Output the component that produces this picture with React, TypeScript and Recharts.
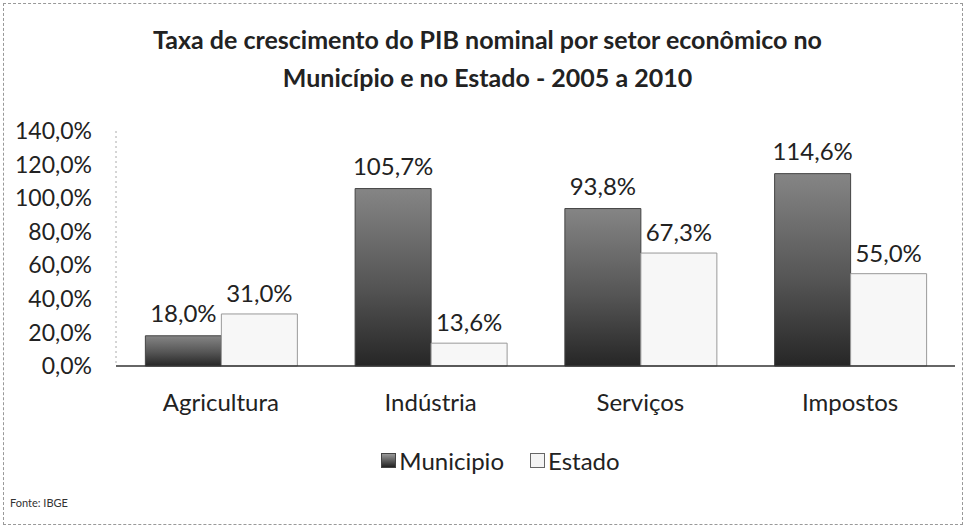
import React from 'react';
import { BarChart, Bar, XAxis, YAxis, LabelList } from 'recharts';

const categories = ['Agricultura', 'Indústria', 'Serviços', 'Impostos'];
const municipio = [18.0, 105.7, 93.8, 114.6];
const estado = [31.0, 13.6, 67.3, 55.0];
const yTicks = [0, 20, 40, 60, 80, 100, 120, 140];

const data = categories.map((name, i) => ({ name, municipio: municipio[i], estado: estado[i] }));

const FONT = 'Lato, "Open Sans", sans-serif';
const pct = (v: number) => `${v.toFixed(1).replace('.', ',')}%`;

const LegendBox = () => (
    <div style={{ position: 'absolute', top: 446, left: 17, width: 967, display: 'flex', justifyContent: 'center', gap: 26, fontFamily: FONT, fontSize: 24, color: '#222' }}>
        <span style={{ display: 'flex', alignItems: 'center', gap: 3 }}>
            <span style={{ width: 13, height: 13, background: 'linear-gradient(#999, #222)', border: '1px solid #444', display: 'inline-block' }} />
            Municipio
        </span>
        <span style={{ display: 'flex', alignItems: 'center', gap: 3 }}>
            <span style={{ width: 13, height: 13, background: '#f4f4f4', border: '1px solid #666', display: 'inline-block' }} />
            Estado
        </span>
    </div>
);

export default function App() {
    return (
        <div style={{ position: 'absolute', left: 0, top: 0, width: 967, height: 529, background: '#fff', fontFamily: FONT }}>
            <div style={{ position: 'absolute', left: 3, top: 3, width: 958, height: 520, border: '1px dashed #999' }} />
            <div style={{ position: 'absolute', left: 0, top: 20, width: 975, textAlign: 'center', fontWeight: 700, fontSize: 25, lineHeight: '38px', color: '#222' }}>
                Taxa de crescimento do PIB nominal por setor econômico no
                <br />
                Município e no Estado - 2005 a 2010
            </div>
            <BarChart
                width={967}
                height={529}
                data={data}
                margin={{ top: 131, right: 12, left: 0, bottom: 0 }}
                barCategoryGap="14%"
                barGap={0}
            >
                <defs>
                    <linearGradient id="munGrad" x1="0" y1="0" x2="0" y2="1">
                        <stop offset="0%" stopColor="#858585" />
                        <stop offset="55%" stopColor="#555" />
                        <stop offset="100%" stopColor="#262626" />
                    </linearGradient>
                </defs>
                <XAxis
                    dataKey="name"
                    tickLine={false}
                    axisLine={{ stroke: '#333', strokeWidth: 1.5 }}
                    tick={{ fontSize: 24, fill: '#222', fontFamily: FONT }}
                    tickMargin={22}
                    height={163}
                />
                <YAxis
                    domain={[0, 140]}
                    ticks={yTicks}
                    interval={0}
                    tickFormatter={pct}
                    tickLine={false}
                    axisLine={{ stroke: '#aaa', strokeDasharray: '2 3' }}
                    tick={{ fontSize: 23, fill: '#222', fontFamily: FONT }}
                    tickMargin={18}
                    width={116}
                />
                <Bar dataKey="municipio" name="Municipio" fill="url(#munGrad)" stroke="#444" isAnimationActive={false}>
                    <LabelList dataKey="municipio" position="top" offset={14} formatter={pct} style={{ fontSize: 24, fill: '#222', fontFamily: FONT }} />
                </Bar>
                <Bar dataKey="estado" name="Estado" fill="#f7f7f7" stroke="#999" isAnimationActive={false}>
                    <LabelList dataKey="estado" position="top" offset={12} formatter={pct} style={{ fontSize: 24, fill: '#222', fontFamily: FONT }} />
                </Bar>
            </BarChart>
            <LegendBox />
            <div style={{ position: 'absolute', left: 10, top: 496, fontSize: 11, color: '#333' }}>Fonte: IBGE</div>
        </div>
    );
}
